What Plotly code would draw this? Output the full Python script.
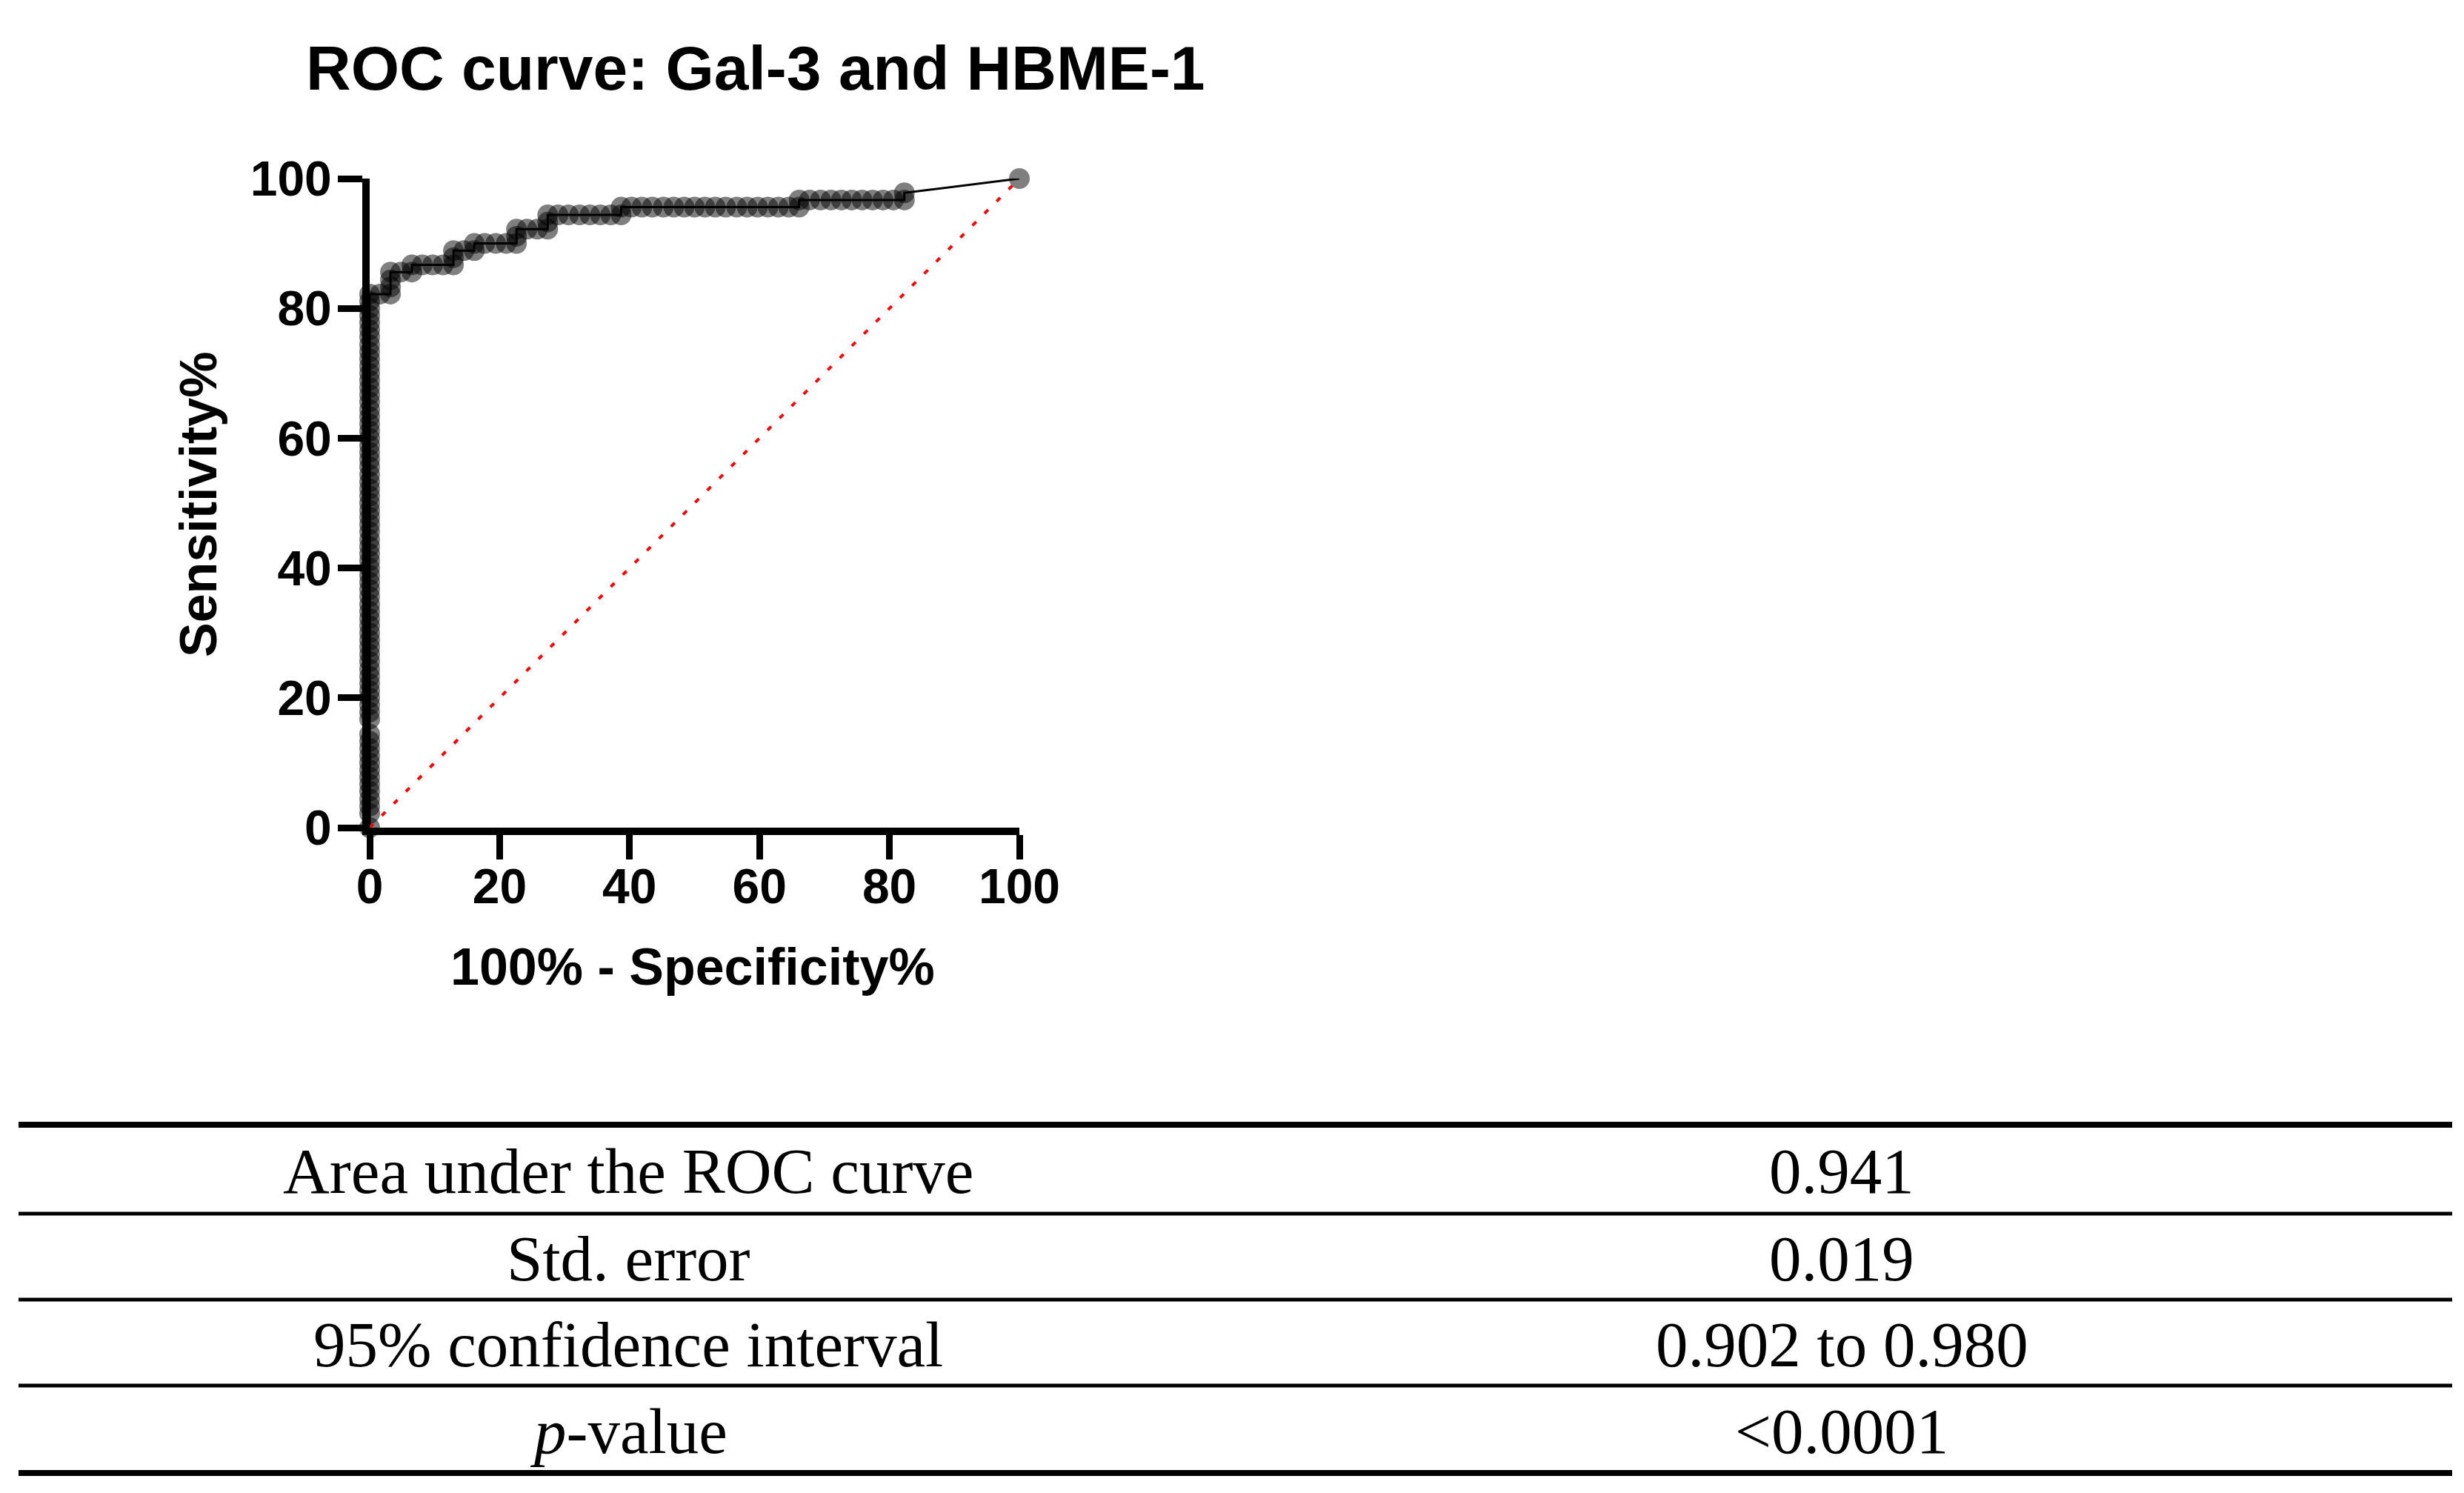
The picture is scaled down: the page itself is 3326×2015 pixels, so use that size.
import plotly.graph_objects as go

# ---------------- data ----------------
title_text = "ROC curve: Gal-3 and HBME-1"
x_title = "100% - Specificity%"
y_title = "Sensitivity%"
tick_vals = [0, 20, 40, 60, 80, 100]
tick_text = ["0", "20", "40", "60", "80", "100"]

# ROC points (100% - Specificity%, Sensitivity%)
roc_x = [0, 0, 0, 0, 0, 0, 0, 0, 0, 0, 0, 0, 0,
         0, 0, 0, 0, 0, 0, 0, 0, 0, 0, 0, 0, 0, 0, 0, 0, 0,
         0, 0, 0, 0, 0, 0, 0, 0, 0, 0, 0, 0, 0, 0, 0, 0, 0,
         0, 0, 0, 0, 0, 0, 0, 0, 0, 0, 0, 0, 0, 0, 0, 0, 0,
         0, 0, 0, 0, 0, 0, 0, 0, 0,
         1.6, 3.2, 3.2, 3.2, 3.2, 4.8, 6.5, 6.5, 8.1, 9.7, 11.3, 12.9, 12.9, 12.9,
         14.5, 16.1, 16.1, 17.7, 19.4, 21.0, 22.6, 22.6, 22.6, 24.2, 25.8, 27.4,
         27.4, 27.4, 29.0, 30.6, 32.3, 33.9, 35.5, 37.1, 38.7, 38.7,
         40.3, 41.9, 43.5, 45.2, 46.8, 48.4, 50.0, 51.6, 53.2, 54.8, 56.5, 58.1,
         59.7, 61.3, 62.9, 64.5, 66.1, 66.1,
         67.7, 69.4, 71.0, 72.6, 74.2, 75.8, 77.4, 79.0, 80.6, 82.3, 82.3, 100.0]
roc_y = [0, 2.2, 3.3, 4.4, 5.6, 6.7, 7.8, 8.9, 10.0, 11.1, 12.2, 13.3, 14.4,
         16.7, 17.8, 18.9, 20.0, 21.1, 22.2, 23.3, 24.4, 25.6, 26.7, 27.8, 28.9, 30.0, 31.1, 32.2, 33.3, 34.4,
         35.6, 36.7, 37.8, 38.9, 40.0, 41.1, 42.2, 43.3, 44.4, 45.6, 46.7, 47.8, 48.9, 50.0, 51.1, 52.2, 53.3,
         54.4, 55.6, 56.7, 57.8, 58.9, 60.0, 61.1, 62.2, 63.3, 64.4, 65.6, 66.7, 67.8, 68.9, 70.0, 71.1, 72.2,
         73.3, 74.4, 75.6, 76.7, 77.8, 78.9, 80.0, 81.1, 82.2,
         82.2, 82.2, 83.3, 84.4, 85.6, 85.6, 85.6, 86.7, 86.7, 86.7, 86.7, 86.7, 87.8, 88.9,
         88.9, 88.9, 90.0, 90.0, 90.0, 90.0, 90.0, 91.1, 92.2, 92.2, 92.2, 92.2,
         93.3, 94.4, 94.4, 94.4, 94.4, 94.4, 94.4, 94.4, 94.4, 95.6,
         95.6, 95.6, 95.6, 95.6, 95.6, 95.6, 95.6, 95.6, 95.6, 95.6, 95.6, 95.6,
         95.6, 95.6, 95.6, 95.6, 95.6, 96.7,
         96.7, 96.7, 96.7, 96.7, 96.7, 96.7, 96.7, 96.7, 96.7, 96.7, 97.8, 100.0]

# reference (chance) line
ref_x = [0, 100]
ref_y = [0, 100]

# results table
table_labels = ["Area under the ROC curve", "Std. error", "95% confidence interval", "<i>p</i>-value"]
table_values = ["0.941", "0.019", "0.902 to 0.980", "&lt;0.0001"]

# ---------------- layout constants (page pixels) ----------------
W, H = 3326, 2015
BODY = 8  # default page margin of the html body
PLOT_L, PLOT_R, PLOT_T, PLOT_B = 499, 1376, 241, 1117


def px_x(p):
    return (p - PLOT_L) / (PLOT_R - PLOT_L)


def px_y(p):
    return (PLOT_B - p) / (PLOT_B - PLOT_T)


SANS = "Liberation Sans, Arial, sans-serif"
SERIF = "Liberation Serif, Times New Roman, serif"

fig = go.Figure()
fig.add_trace(go.Scatter(
    x=roc_x, y=roc_y, mode="lines+markers",
    line=dict(color="black", width=3),
    marker=dict(size=28, color="rgba(0,0,0,0.5)", line=dict(width=0)),
    cliponaxis=False, showlegend=False, hoverinfo="skip"))
fig.add_trace(go.Scatter(
    x=ref_x, y=ref_y, mode="lines",
    line=dict(color="#ff0000", width=4, dash="7px,16px"),
    cliponaxis=False, showlegend=False, hoverinfo="skip"))

axis_common = dict(
    range=[0, 100], tickmode="array", tickvals=tick_vals, ticktext=tick_text,
    showline=True, linewidth=10, linecolor="black", mirror=False,
    ticks="outside", ticklen=33, tickwidth=9, tickcolor="black",
    tickfont=dict(family=SANS, size=66, color="black", weight="bold"),
    showgrid=False, zeroline=False, fixedrange=True,
)
fig.update_xaxes(**axis_common, ticklabelstandoff=-20)
fig.update_yaxes(**axis_common, ticklabelstandoff=-5)

annotations = [
    dict(text=title_text, x=px_x(411), y=px_y(92), xanchor="left", yanchor="middle",
         font=dict(family=SANS, size=84, color="black", weight="bold")),
    dict(text=x_title, x=px_x(935), y=px_y(1305), xanchor="center", yanchor="middle",
         font=dict(family=SANS, size=70, color="black", weight="bold")),
    dict(text=y_title, x=px_x(268), y=px_y(681), xanchor="center", yanchor="middle",
         textangle=-90, font=dict(family=SANS, size=70, color="black", weight="bold")),
]

row_lines = [1518, 1638, 1754, 1870, 1988]
row_widths = [8, 5, 5, 5, 8]
TABLE_L, TABLE_R = 25, 3310
COL_CENTERS = [848, 2486]
shapes = []
for yl, wl in zip(row_lines, row_widths):
    shapes.append(dict(type="line", xref="paper", yref="paper",
                       x0=px_x(TABLE_L), x1=px_x(TABLE_R), y0=px_y(yl), y1=px_y(yl),
                       line=dict(color="black", width=wl)))

for i, (lab, val) in enumerate(zip(table_labels, table_values)):
    yc = (row_lines[i] + row_lines[i + 1]) / 2 + 2
    annotations.append(dict(text=lab, x=px_x(COL_CENTERS[0]), y=px_y(yc),
                            xanchor="center", yanchor="middle",
                            font=dict(family=SERIF, size=87, color="black")))
    annotations.append(dict(text=val, x=px_x(COL_CENTERS[1]), y=px_y(yc),
                            xanchor="center", yanchor="middle",
                            font=dict(family=SERIF, size=87, color="black")))

for a in annotations:
    a.update(xref="paper", yref="paper", showarrow=False)

fig.update_layout(
    width=W - BODY, height=H - BODY,
    margin=dict(l=PLOT_L - BODY, r=W - PLOT_R, t=PLOT_T - BODY, b=H - PLOT_B, pad=0),
    paper_bgcolor="white", plot_bgcolor="white",
    annotations=annotations, shapes=shapes,
)

fig.write_html("out.html")
